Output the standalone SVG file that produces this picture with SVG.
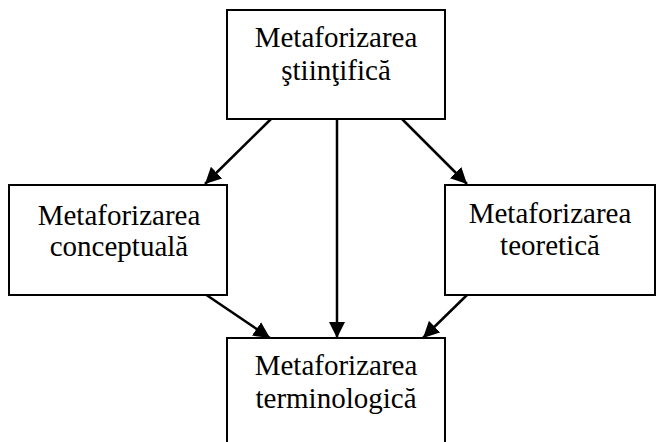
<svg xmlns="http://www.w3.org/2000/svg" width="657" height="442" viewBox="0 0 657 442">
<defs>
<style>
.box{fill:#fff;stroke:#000;stroke-width:2}
.lbl{font-family:"Liberation Serif","Times New Roman",serif;font-size:29px;fill:#000;text-anchor:middle}
.edge{stroke:#000;stroke-width:2.5;fill:none;marker-end:url(#ah)}
</style>
<marker id="ah" viewBox="0 0 10 10" refX="10" refY="5" markerWidth="6.5" markerHeight="6.5" orient="auto" markerUnits="strokeWidth">
<path d="M0,0 L10,5 L0,10 Z" fill="#000"/>
</marker>
</defs>
<rect width="657" height="442" fill="#fff"/>
<g id="connectors">
<line class="edge" x1="271" y1="119" x2="205" y2="184"/>
<line class="edge" x1="337" y1="119" x2="337" y2="338"/>
<line class="edge" x1="402" y1="119" x2="467" y2="184"/>
<line class="edge" x1="205" y1="294" x2="270" y2="338"/>
<line class="edge" x1="468" y1="294" x2="423" y2="338"/>
</g>
<g id="n-stiintifica">
<rect class="box" x="227" y="10" width="218" height="109"/>
<text class="lbl" x="336" y="47">Metaforizarea</text>
<text class="lbl" x="336" y="80">ştiinţifică</text>
</g>
<g id="n-conceptuala">
<rect class="box" x="9" y="185" width="218" height="110"/>
<text class="lbl" x="119" y="225">Metaforizarea</text>
<text class="lbl" x="119" y="256">conceptuală</text>
</g>
<g id="n-teoretica">
<rect class="box" x="445" y="185" width="210" height="110"/>
<text class="lbl" x="550" y="223">Metaforizarea</text>
<text class="lbl" x="550" y="255">teoretică</text>
</g>
<g id="n-terminologica">
<rect class="box" x="227" y="338" width="218" height="110"/>
<text class="lbl" x="336" y="375">Metaforizarea</text>
<text class="lbl" x="336" y="408">terminologică</text>
</g>
</svg>
